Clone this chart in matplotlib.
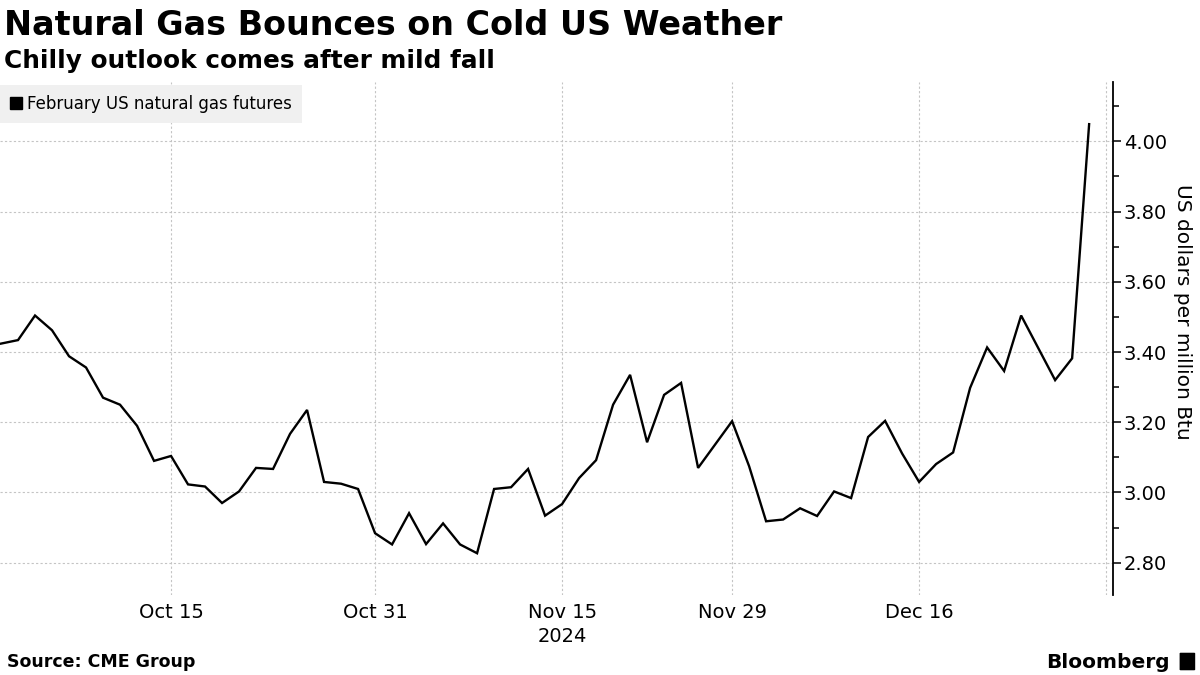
import numpy as np, pandas as pd
import matplotlib
matplotlib.use("Agg")
import matplotlib.pyplot as plt
from matplotlib.lines import Line2D
from matplotlib.ticker import MultipleLocator, FormatStrFormatter
from matplotlib.patches import FancyBboxPatch

TITLE = "Natural Gas Bounces on Cold US Weather"
SUBTITLE = "Chilly outlook comes after mild fall"
SERIES = "February US natural gas futures"
YLABEL = "US dollars per million Btu"
SOURCE = "Source: CME Group"

START, END = "2024-10-01", "2024-12-30"
HOLIDAYS = ["2024-11-28", "2024-12-25"]

# settle prices, one per trading day
oct_px = [3.424, 3.434, 3.504, 3.462, 3.388, 3.356, 3.270, 3.250, 3.190, 3.090,
          3.104, 3.023, 3.017, 2.970, 3.003, 3.070, 3.067, 3.167, 3.235, 3.030,
          3.025, 3.010, 2.884]
nov_px = [2.852, 2.941, 2.853, 2.912, 2.852, 2.827, 3.010, 3.015, 3.067, 2.934,
          2.967, 3.041, 3.092, 3.250, 3.335, 3.143, 3.278, 3.312, 3.070, 3.203]
dec_px = [3.075, 2.918, 2.923, 2.955, 2.933, 3.003, 2.984, 3.158, 3.204, 3.111,
          3.030, 3.081, 3.114, 3.298, 3.413, 3.346, 3.504, 3.320, 3.382, 4.049]

tick_dates = ["2024-10-15", "2024-10-31", "2024-11-15", "2024-11-29", "2024-12-16", "2024-12-31"]
tick_labels = ["Oct 15", "Oct 31", "Nov 15\n2024", "Nov 29", "Dec 16", ""]

days = pd.bdate_range(START, END)
days = days[~days.isin(pd.to_datetime(HOLIDAYS))]
prices = oct_px + nov_px + dec_px

# weekday axis, holidays leave a gap
start = np.datetime64(START, "D")
x = np.busday_count(start, days.values.astype("datetime64[D]"))
xt = np.busday_count(start, np.array(tick_dates, dtype="datetime64[D]"))

fig = plt.figure(figsize=(12, 6.75), dpi=100)
ax = fig.add_axes([0.0, 0.1185, 0.9273, 0.76])

ax.plot(x, prices, color="black", lw=1.7, solid_joinstyle="miter")
ax.set_xlim(-0.06, 65.39)
ax.set_ylim(2.708, 4.169)

for s in ("left", "top", "bottom"):
    ax.spines[s].set_visible(False)
ax.spines["right"].set_linewidth(1.3)

ax.yaxis.tick_right()
ax.yaxis.set_label_position("right")
ax.yaxis.set_major_locator(MultipleLocator(0.2))
ax.yaxis.set_minor_locator(MultipleLocator(0.1))
ax.yaxis.set_major_formatter(FormatStrFormatter("%.2f"))
ax.tick_params(axis="y", which="major", direction="out", length=6, width=1.1,
               labelsize=14, pad=2, colors="black")
ax.tick_params(axis="y", which="minor", direction="out", length=4, width=1.1)
ax.set_ylabel(YLABEL, rotation=270, fontsize=14.5, labelpad=18)
ax.yaxis.label.set_y(0.552)

ax.set_xticks(xt)
ax.set_xticklabels(tick_labels, fontsize=14, linespacing=1.3)
ax.tick_params(axis="x", length=0, pad=6)

ax.grid(True, which="major", color="#c4c4c4", ls=(0, (2, 2)), lw=0.8)
ax.set_axisbelow(True)

h = Line2D([], [], color="black", marker="s", ls="none", markersize=9)
leg = ax.legend([h], [SERIES], loc="upper left", bbox_to_anchor=(0.0, 0.995),
                borderaxespad=0, frameon=True, fontsize=12, handlelength=0.7,
                handletextpad=0.35, borderpad=0.6, fancybox=False)
leg.get_frame().set_facecolor("#f0f0f0")
leg.get_frame().set_edgecolor("none")
leg.get_frame().set_alpha(1)

fig.text(0.003, 0.962, TITLE, fontsize=24, fontweight="bold", va="center", ha="left")
fig.text(0.003, 0.910, SUBTITLE, fontsize=17.8, fontweight="bold", va="center", ha="left")
fig.text(0.006, 0.019, SOURCE, fontsize=12.5, fontweight="bold", va="center", ha="left")
fig.text(0.975, 0.019, "Bloomberg", fontsize=14.5, fontweight="bold", va="center", ha="right")
fig.patches.append(FancyBboxPatch((0.984, 0.008), 0.011, 0.024, boxstyle="round,pad=0.001",
                                  transform=fig.transFigure, facecolor="black",
                                  edgecolor="none"))

fig.savefig("out.png", dpi=100)
